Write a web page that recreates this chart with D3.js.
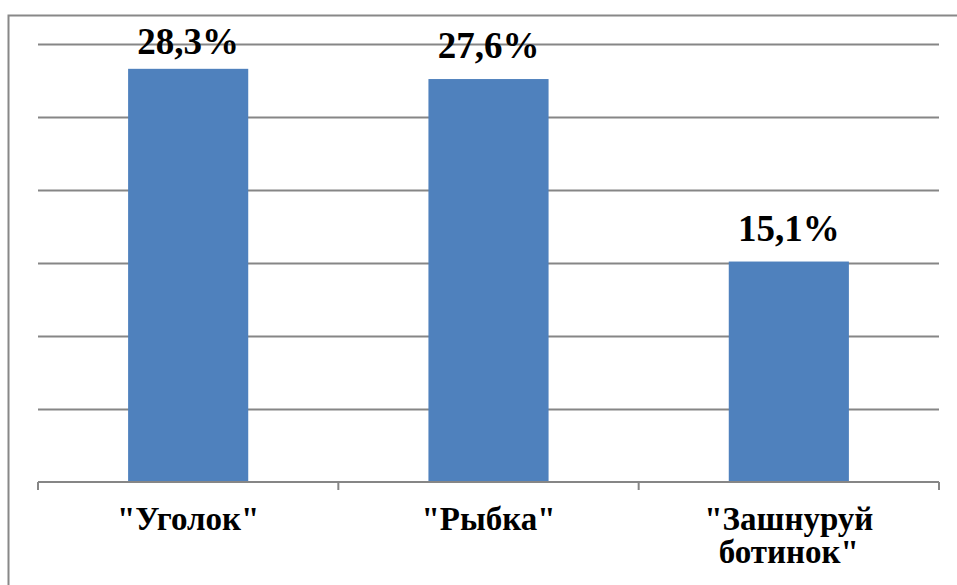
<!DOCTYPE html>
<html><head><meta charset="utf-8">
<script src="https://cdn.jsdelivr.net/npm/d3@7"></script>
</head><body style="margin:0;background:#fff">
<svg id="c" width="957" height="585" style="display:block"></svg>
<script>
const categories = [["\"Уголок\""], ["\"Рыбка\""], ["\"Зашнуруй", "ботинок\""]];
const values = [28.3, 27.6, 15.1];
const valueLabels = ["28,3%", "27,6%", "15,1%"];
const yTicks = [0, 5, 10, 15, 20, 25, 30];

const svg = d3.select("#c");
const m = {left: 38, right: 939, top: 44, bottom: 482};
// outer frame
svg.append("rect").attr("x", 8.5).attr("y", 15.5).attr("width", 960).attr("height", 600)
  .attr("fill", "none").attr("stroke", "#888").attr("stroke-width", 2);

const x = d3.scaleBand().domain(d3.range(values.length)).range([m.left, m.right]).paddingInner(0.6).paddingOuter(0.3);
const y = d3.scaleLinear().domain([0, 30]).range([m.bottom, m.top]);

svg.append("g").selectAll("line").data(yTicks.filter(d => d > 0)).join("line")
  .attr("x1", m.left).attr("x2", m.right).attr("y1", d => Math.round(y(d)) + 0.5).attr("y2", d => Math.round(y(d)) + 0.5)
  .attr("stroke", "#868686").attr("stroke-width", 2);

svg.append("g").selectAll("rect").data(values).join("rect")
  .attr("x", (d, i) => x(i)).attr("width", x.bandwidth())
  .attr("y", d => y(d)).attr("height", d => y(0) - y(d))
  .attr("fill", "#4F81BD");

// x axis
const ax = svg.append("g");
ax.append("line").attr("x1", m.left).attr("x2", m.right).attr("y1", y(0)).attr("y2", y(0))
  .attr("stroke", "#868686").attr("stroke-width", 2);
const tickXs = d3.range(values.length + 1).map(i => m.left + (m.right - m.left) * i / values.length);
ax.selectAll("line.t").data(tickXs).join("line").attr("class", "t")
  .attr("x1", d => d).attr("x2", d => d).attr("y1", y(0)).attr("y2", y(0) + 8)
  .attr("stroke", "#868686").attr("stroke-width", 2);

svg.append("g").selectAll("text").data(values).join("text")
  .attr("x", (d, i) => x(i) + x.bandwidth() / 2).attr("y", d => Math.max(54, y(d) - 21))
  .attr("text-anchor", "middle").attr("font-size", 37).attr("font-weight", "bold")
  .style("font-family", "\"Liberation Serif\"").attr("fill", "#000").text((d, i) => valueLabels[i]);

const cl = svg.append("g").selectAll("text").data(categories).join("text")
  .attr("x", (d, i) => x(i) + x.bandwidth() / 2).attr("y", 530)
  .attr("text-anchor", "middle").attr("font-size", 33).attr("font-weight", "bold")
  .style("font-family", "\"Liberation Serif\"").attr("fill", "#000");
cl.selectAll("tspan").data(d => d).join("tspan")
  .attr("x", function() { return this.parentNode.getAttribute("x"); })
  .attr("dy", (d, i) => i === 0 ? 0 : 33).text(d => d);
</script>
</body></html>
